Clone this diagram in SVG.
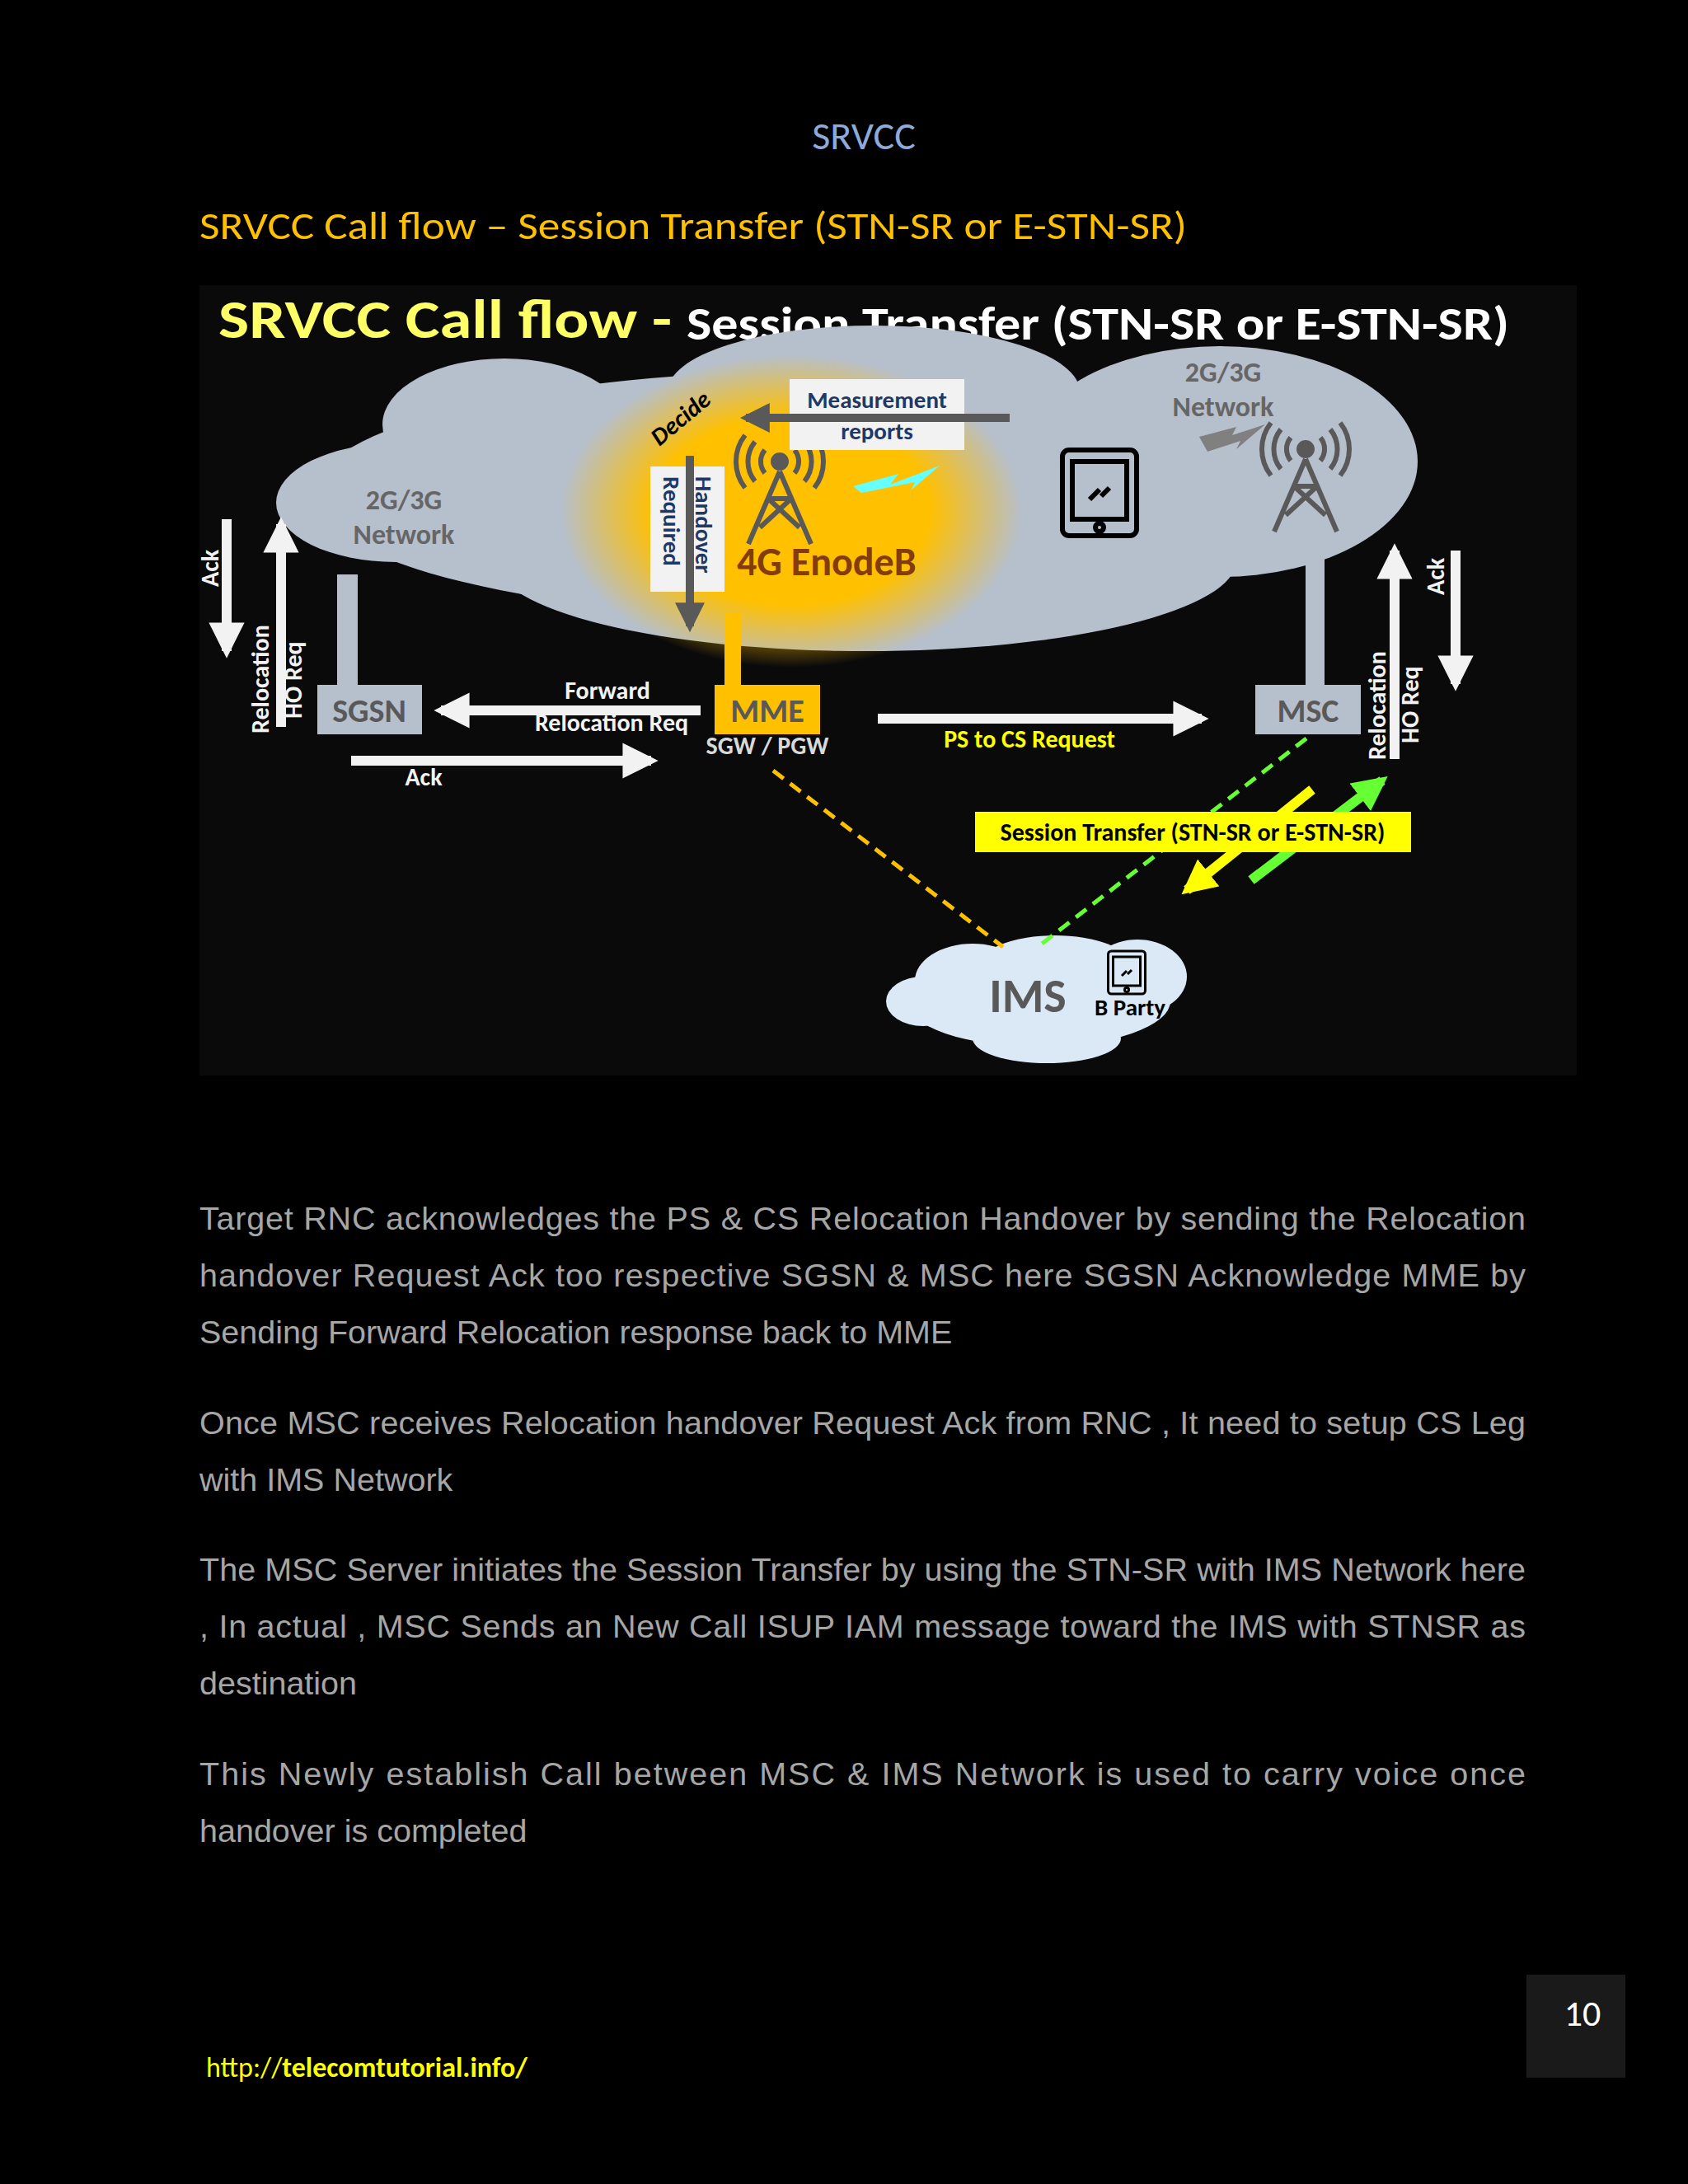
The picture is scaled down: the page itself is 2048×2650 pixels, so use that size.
<svg xmlns="http://www.w3.org/2000/svg" width="2048" height="2650" viewBox="0 0 2048 2650">
<defs>
<style>
.t{font-family:Carlito,"Open Sans","Liberation Sans",sans-serif;font-weight:bold}
.body{font-family:"Liberation Sans",Arial,sans-serif;font-size:39.5px;fill:#a6a6a6}
.wl{stroke:#f2f2f2;stroke-width:12;fill:none}
.gl{stroke:#595959;stroke-width:10;fill:none}
.cloud{fill:#b6bfcc}
</style>
<marker id="wa" viewBox="0 0 10 10" refX="8" refY="5" markerWidth="3.6" markerHeight="3.6" orient="auto"><path d="M0,0L10,5L0,10z" fill="#f2f2f2"/></marker>
<marker id="ga" viewBox="0 0 10 10" refX="8" refY="5" markerWidth="3.6" markerHeight="3.6" orient="auto"><path d="M0,0L10,5L0,10z" fill="#595959"/></marker>
<marker id="ya" viewBox="0 0 10 10" refX="8" refY="5" markerWidth="3.5" markerHeight="3.5" orient="auto"><path d="M0,0L10,5L0,10z" fill="#ffff00"/></marker>
<marker id="gra" viewBox="0 0 10 10" refX="8" refY="5" markerWidth="3.5" markerHeight="3.5" orient="auto"><path d="M0,0L10,5L0,10z" fill="#66ff33"/></marker>
<radialGradient id="glow"><stop offset="0" stop-color="#ffc000"/><stop offset="0.6" stop-color="#ffc000"/><stop offset="1" stop-color="#ffc000" stop-opacity="0"/></radialGradient>
<g id="tower" fill="none" stroke="#595959" stroke-width="6">
<circle cx="0" cy="0" r="8" fill="#595959"/>
<path d="M-18,-14a22,22 0 0 0 0,28M18,-14a22,22 0 0 1 0,28M-30,-24a38,38 0 0 0 0,48M30,-24a38,38 0 0 1 0,48M-42,-32a52,52 0 0 0 0,64M42,-32a52,52 0 0 1 0,64"/>
<path d="M0,12L-38,100M0,12L38,100M-14,45L24,80M14,45L-24,80M-16,45H16"/>
</g>
<g id="phone" fill="none" stroke="#000" stroke-width="6">
<rect x="-45" y="-52" width="90" height="104" rx="8"/>
<rect x="-33" y="-38" width="66" height="70"/>
<circle cx="0" cy="42" r="5"/>
<path d="M-12,8L0,-4M2,4L12,-6"/>
</g>
</defs>
<rect width="2048" height="2650" fill="#000"/>
<text x="1048" y="181" text-anchor="middle" font-family="Carlito,'Open Sans',sans-serif" font-size="48" fill="#8eaadb">SRVCC</text>
<text x="242" y="290" font-family="Carlito,'Open Sans',sans-serif" font-size="48" fill="#ffc000" textLength="1198" lengthAdjust="spacingAndGlyphs">SRVCC Call flow – Session Transfer (STN-SR or E-STN-SR)</text>
<rect x="242" y="346" width="1671" height="959" fill="#0a0a0a"/>
<text x="265" y="410" class="t" font-size="66" fill="#ffff66" textLength="550" lengthAdjust="spacingAndGlyphs">SRVCC Call flow -</text>
<text x="833" y="412" class="t" font-size="56" fill="#fff" textLength="998" lengthAdjust="spacingAndGlyphs">Session Transfer (STN-SR or E-STN-SR)</text>
<g id="cloud-main">
<ellipse class="cloud" cx="480" cy="610" rx="145" ry="72"/>
<ellipse class="cloud" cx="612" cy="515" rx="148" ry="80"/>
<ellipse class="cloud" cx="1060" cy="475" rx="250" ry="80"/>
<ellipse class="cloud" cx="1480" cy="560" rx="240" ry="140"/>
<ellipse class="cloud" cx="1050" cy="680" rx="450" ry="110"/>
<ellipse class="cloud" cx="1000" cy="600" rx="620" ry="150"/>
<ellipse cx="960" cy="620" rx="280" ry="190" fill="url(#glow)"/>
</g>
<g id="net-left"><text x="490" y="618" text-anchor="middle" class="t" font-size="34" fill="#666">2G/3G</text><text x="490" y="660" text-anchor="middle" class="t" font-size="34" fill="#666">Network</text></g>
<g id="net-right"><text x="1484" y="463" text-anchor="middle" class="t" font-size="34" fill="#666">2G/3G</text><text x="1484" y="505" text-anchor="middle" class="t" font-size="34" fill="#666">Network</text>
<path d="M1455,530L1500,518L1495,528L1535,515L1500,545L1505,535L1465,548z" fill="#808080"/>
<use href="#tower" x="1584" y="545"/></g>
<g id="enodeb"><use href="#tower" x="946" y="560"/>
<path d="M1035,590L1090,575L1080,588L1140,565L1105,595L1110,585L1045,598z" fill="#66ffff"/>
<text x="894" y="698" class="t" font-size="48" fill="#843c0c">4G EnodeB</text></g>
<g id="ue"><use href="#phone" x="1334" y="598"/></g>
<g id="meas"><rect x="958" y="460" width="212" height="86" fill="#f2f2f2"/>
<text x="1064" y="495" text-anchor="middle" class="t" font-size="29" fill="#1f3864">Measurement</text>
<text x="1064" y="533" text-anchor="middle" class="t" font-size="29" fill="#1f3864">reports</text></g>
<g id="ho"><rect x="789" y="566" width="90" height="152" fill="#f2f2f2"/>
<text transform="translate(844,578) rotate(90)" class="t" font-size="29" fill="#1f3864">Handover</text>
<text transform="translate(805,578) rotate(90)" class="t" font-size="29" fill="#1f3864">Required</text></g>
<text transform="translate(800,542) rotate(-40)" class="t" font-size="30" font-style="italic" fill="#000">Decide</text>
<g id="sgsn"><rect x="409" y="697" width="25" height="134" fill="#b6bfcc"/><rect x="385" y="831" width="127" height="60" fill="#b6bfcc"/><text x="448" y="876" text-anchor="middle" class="t" font-size="40" fill="#595959" font-weight="normal">SGSN</text></g>
<g id="mme"><rect x="879" y="744" width="20" height="90" fill="#ffc000"/><rect x="867" y="831" width="128" height="60" fill="#ffc000"/><text x="931" y="876" text-anchor="middle" class="t" font-size="40" fill="#595959" font-weight="normal">MME</text>
<text x="931" y="915" text-anchor="middle" class="t" font-size="30" fill="#d9d9d9">SGW / PGW</text></g>
<g id="msc"><rect x="1584" y="659" width="23" height="172" fill="#b6bfcc"/><rect x="1523" y="831" width="128" height="60" fill="#b6bfcc"/><text x="1587" y="876" text-anchor="middle" class="t" font-size="40" fill="#595959" font-weight="normal">MSC</text></g>
<g id="ims">
<ellipse cx="1260" cy="1215" rx="160" ry="55" fill="#dbe8f5"/>
<ellipse cx="1180" cy="1190" rx="70" ry="45" fill="#dbe8f5"/>
<ellipse cx="1280" cy="1170" rx="90" ry="35" fill="#dbe8f5"/>
<ellipse cx="1380" cy="1185" rx="60" ry="45" fill="#dbe8f5"/>
<ellipse cx="1120" cy="1215" rx="45" ry="30" fill="#dbe8f5"/>
<ellipse cx="1270" cy="1260" rx="90" ry="30" fill="#dbe8f5"/>
<text x="1247" y="1228" text-anchor="middle" class="t" font-size="58" fill="#595959">IMS</text>
<g transform="translate(1367,1180) scale(0.5)"><use href="#phone"/></g>
<text x="1371" y="1232" text-anchor="middle" class="t" font-size="29" fill="#000">B Party</text></g>
<g id="connectors">
<line x1="1225" y1="507" x2="905" y2="507" class="gl" marker-end="url(#ga)"/>
<line x1="837" y1="553" x2="837" y2="760" class="gl" marker-end="url(#ga)"/>
<line x1="850" y1="862" x2="535" y2="862" class="wl" marker-end="url(#wa)"/>
<line x1="426" y1="923" x2="790" y2="923" class="wl" marker-end="url(#wa)"/>
<line x1="275" y1="630" x2="275" y2="790" class="wl" marker-end="url(#wa)"/>
<line x1="341" y1="882" x2="341" y2="636" class="wl" marker-end="url(#wa)"/>
<line x1="1065" y1="872" x2="1458" y2="872" class="wl" marker-end="url(#wa)"/>
<line x1="1692" y1="921" x2="1692" y2="668" class="wl" marker-end="url(#wa)"/>
<line x1="1766" y1="668" x2="1766" y2="830" class="wl" marker-end="url(#wa)"/>
<line x1="1585" y1="896" x2="1259" y2="1149" stroke="#66ff33" stroke-width="5" stroke-dasharray="16,10"/>
<line x1="938" y1="935" x2="1217" y2="1149" stroke="#ffc000" stroke-width="5" stroke-dasharray="16,10"/>
<line x1="1592" y1="958" x2="1440" y2="1080" stroke="#ffff00" stroke-width="12" marker-end="url(#ya)"/>
<line x1="1518" y1="1068" x2="1677" y2="947" stroke="#66ff33" stroke-width="12" marker-end="url(#gra)"/>
</g>
<text x="737" y="848" text-anchor="middle" class="t" font-size="30" fill="#f2f2f2">Forward</text>
<text x="742" y="887" text-anchor="middle" class="t" font-size="30" fill="#f2f2f2">Relocation Req</text>
<text x="514" y="953" text-anchor="middle" class="t" font-size="30" fill="#f2f2f2">Ack</text>
<text transform="translate(265,712) rotate(-90)" class="t" font-size="30" fill="#f2f2f2">Ack</text>
<text transform="translate(326,890) rotate(-90)" class="t" font-size="30" fill="#f2f2f2">Relocation</text>
<text transform="translate(366,872) rotate(-90)" class="t" font-size="30" fill="#f2f2f2">HO Req</text>
<text x="1249" y="907" text-anchor="middle" class="t" font-size="30" fill="#ffff00">PS to CS Request</text>
<text transform="translate(1681,922) rotate(-90)" class="t" font-size="30" fill="#f2f2f2">Relocation</text>
<text transform="translate(1721,902) rotate(-90)" class="t" font-size="30" fill="#f2f2f2">HO Req</text>
<text transform="translate(1752,722) rotate(-90)" class="t" font-size="30" fill="#f2f2f2">Ack</text>
<g id="st"><rect x="1183" y="985" width="529" height="49" fill="#ffff00"/><text x="1447" y="1020" text-anchor="middle" class="t" font-size="30" fill="#000">Session Transfer (STN-SR or E-STN-SR)</text></g>
<text class="body" x="242" y="1492" textLength="1609" lengthAdjust="spacing">Target RNC acknowledges the PS &amp; CS Relocation Handover by sending the Relocation</text>
<text class="body" x="242" y="1561" textLength="1609" lengthAdjust="spacing">handover Request Ack too respective SGSN &amp; MSC here SGSN Acknowledge MME by</text>
<text class="body" x="242" y="1630">Sending Forward Relocation response back to MME</text>
<text class="body" x="242" y="1740" textLength="1609" lengthAdjust="spacing">Once MSC receives Relocation handover Request Ack from RNC , It need to setup CS Leg</text>
<text class="body" x="242" y="1809">with IMS Network</text>
<text class="body" x="242" y="1918" textLength="1609" lengthAdjust="spacing">The MSC Server initiates the Session Transfer by using the STN-SR with IMS Network here</text>
<text class="body" x="242" y="1987" textLength="1609" lengthAdjust="spacing">, In actual , MSC Sends an New Call ISUP IAM message toward the IMS with STNSR as</text>
<text class="body" x="242" y="2056">destination</text>
<text class="body" x="242" y="2166" textLength="1609" lengthAdjust="spacing">This Newly establish Call between MSC &amp; IMS Network is used to carry voice once</text>
<text class="body" x="242" y="2235">handover is completed</text>
<rect x="1852" y="2396" width="120" height="125" fill="#1a1a1a"/>
<text x="1920" y="2458" text-anchor="middle" font-family="Carlito,'Open Sans',sans-serif" font-size="44" fill="#fff">10</text>
<text x="250" y="2520" font-family="Carlito,'Open Sans',sans-serif" font-size="34" fill="#ffff00">http://<tspan font-weight="bold">telecomtutorial.info/</tspan></text>
</svg>
